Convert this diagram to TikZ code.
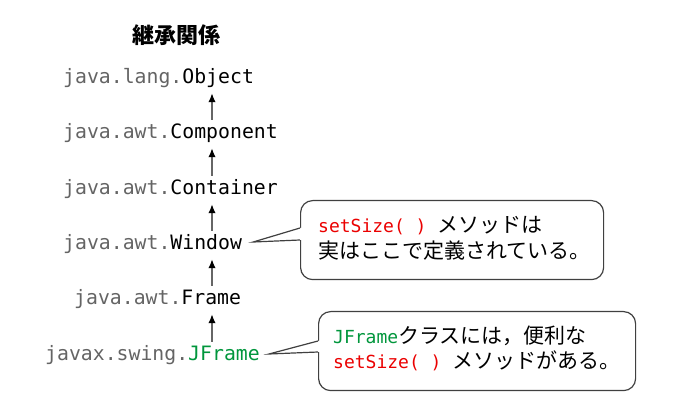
\documentclass[tikz,border=0pt]{standalone}
\usepackage{fontspec}
\setmainfont{Noto Sans CJK JP}
\newfontfamily\cjk{Noto Sans CJK JP}
\newfontfamily\mono{DejaVu Sans Mono}
\usetikzlibrary{arrows.meta,calc}
\definecolor{pkg}{RGB}{100,100,100}
\definecolor{jgreen}{RGB}{0,150,60}
\definecolor{mred}{RGB}{235,0,0}
\newcommand\mfont{\mono\fontsize{18}{25}\selectfont}
\begin{document}
\begin{tikzpicture}[x=1pt,y=-1pt,
  cls/.style={anchor=base west, inner sep=0pt, text height=15pt, text depth=5pt, font=\mono\fontsize{19.8}{22}\selectfont},
  arr/.style={-{Latex[length=9pt,width=7.5pt,black]}, line width=1.6pt, draw=black!60, shorten <=4pt, shorten >=4pt},
  bubble/.style={draw=black!75, line width=1.2pt, rounded corners=12pt, fill=white, inner sep=0pt, anchor=north west},
  ptr/.style={draw=black!75, line width=1.2pt, line join=miter},
  txt/.style={anchor=base west, inner sep=0pt, font=\cjk\fontsize{21}{25}\selectfont},
  ]
\useasboundingbox (0,0) rectangle (675,419);

\node[anchor=base, inner sep=0pt, font=\cjk\bfseries\fontsize{22}{26}\selectfont] (title) at (176,44) {継承関係};

\node[cls] (obj)  at (63,84)  {{\color{pkg}java.lang.}Object};
\node[cls] (comp) at (63,139) {{\color{pkg}java.awt.}Component};
\node[cls] (cont) at (63,195) {{\color{pkg}java.awt.}Container};
\node[cls] (win)  at (63,250) {{\color{pkg}java.awt.}Window};
\node[cls] (frm)  at (74,305) {{\color{pkg}java.awt.}Frame};
\node[cls] (jfr)  at (45,361) {{\color{pkg}javax.swing.}{\color{jgreen}JFrame}};

\coordinate (ax) at (212,0);
\draw[arr] (comp.north -| ax) -- (obj.south -| ax);
\draw[arr] (cont.north -| ax) -- (comp.south -| ax);
\draw[arr] (win.north -| ax) -- (cont.south -| ax);
\draw[arr] (frm.north -| ax) -- (win.south -| ax);
\draw[arr] (jfr.north -| ax) -- (frm.south -| ax);

% callout 1
\node[bubble, minimum width=303pt, minimum height=79pt] (b1) at (300,200) {};
\coordinate (t1) at ($(win.east)+(11,-3)$);
\coordinate (a1) at ($(b1.north west)+(0,28)$);
\coordinate (c1) at ($(b1.north west)+(0,40)$);
\fill[white] ($(a1)+(3,0)$) -- (a1) -- (t1) -- (c1) -- ($(c1)+(3,0)$) -- cycle;
\draw[ptr] (a1) -- (t1) -- (c1);
\node[txt] (l1a) at (318,233) {{\mfont\color{mred}setSize(\ )\ }メソッドは};
\node[txt] (l1b) at (318,259) {実はここで定義されている。};

% callout 2
\node[bubble, minimum width=317pt, minimum height=79pt] (b2) at (318,311) {};
\coordinate (t2) at ($(jfr.east)+(9,-2)$);
\coordinate (a2) at ($(b2.north west)+(0,30)$);
\coordinate (c2) at ($(b2.north west)+(0,41)$);
\fill[white] ($(a2)+(3,0)$) -- (a2) -- (t2) -- (c2) -- ($(c2)+(3,0)$) -- cycle;
\draw[ptr] (a2) -- (t2) -- (c2);
\node[txt] (l2a) at (333,344) {{\mfont\color{jgreen}JFrame}クラスには，便利な};
\node[txt] (l2b) at (333,369) {{\mfont\color{mred}setSize(\ )\ }メソッドがある。};
\end{tikzpicture}
\end{document}
